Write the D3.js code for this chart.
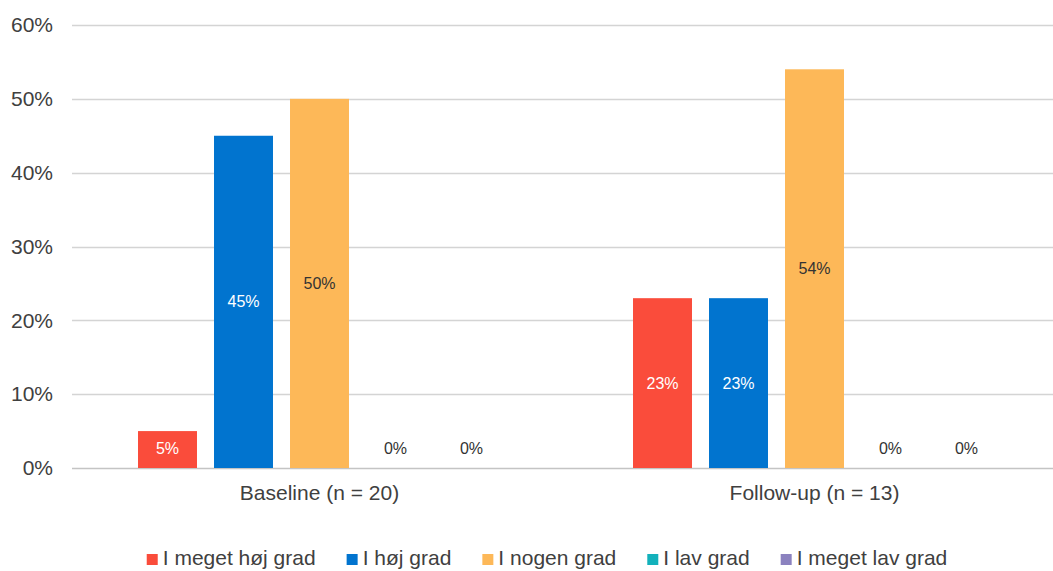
<!DOCTYPE html>
<html>
<head>
<meta charset="utf-8">
<script src="https://cdn.jsdelivr.net/npm/d3@7"></script>
<style>
  html, body { margin: 0; padding: 0; background: #fff; }
  svg { display: block; font-family: "Liberation Sans", Arial, sans-serif; }
</style>
</head>
<body>
<svg id="chart" width="1053" height="571"></svg>
<script>
// Survey groups and answer categories
const groups = ["Baseline (n = 20)", "Follow-up (n = 13)"];
const series = ["I meget høj grad", "I høj grad", "I nogen grad", "I lav grad", "I meget lav grad"];
const colors = ["#FA4C3B", "#0174CF", "#FDB858", "#13B1BB", "#8B82BF"];
// Percentage per group, in series order
const baselineValues = [5, 45, 50, 0, 0];
const followUpValues = [23, 23, 54, 0, 0];
const yTicks = [0, 10, 20, 30, 40, 50, 60];

const values = [baselineValues, followUpValues];

const svg = d3.select("#chart");
const plotLeft = 72, plotRight = 1053, plotTop = 25, plotBottom = 468;

const y = d3.scaleLinear().domain([0, 60]).range([plotBottom, plotTop]);
const x0 = d3.scaleBand().domain(groups).range([plotLeft, plotLeft + 990]).padding(0);
const x1 = d3.scaleBand().domain(series).range([-190, 190]).paddingInner(0.224).paddingOuter(0.112);

// Horizontal gridlines
svg.append("g").selectAll("line").data(yTicks).join("line")
  .attr("x1", plotLeft).attr("x2", plotRight)
  .attr("y1", d => Math.round(y(d)) + 0.5).attr("y2", d => Math.round(y(d)) + 0.5)
  .attr("stroke", d => d === 0 ? "#c4c4c4" : "#d4d4d4")
  .attr("stroke-width", 1.3);

// Y axis labels
const yAxis = d3.axisLeft(y).tickValues(yTicks).tickFormat(d => d + "%").tickSize(0).tickPadding(0);
svg.append("g").attr("transform", `translate(53,0)`).call(yAxis)
  .call(g => g.select(".domain").remove())
  .call(g => g.selectAll("text").attr("fill", "#404040").attr("font-size", 21)
    .attr("font-family", "'Liberation Sans', Arial, sans-serif"));

// Bars and value labels
const groupG = svg.append("g").selectAll("g").data(groups).join("g")
  .attr("transform", d => `translate(${x0(d) + x0.bandwidth() / 2},0)`);

groupG.selectAll("rect").data((g, gi) => series.map((s, si) => ({ s, si, v: values[gi][si] })))
  .join("rect")
  .attr("x", d => x1(d.s))
  .attr("width", x1.bandwidth())
  .attr("y", d => y(d.v))
  .attr("height", d => y(0) - y(d.v))
  .attr("fill", d => colors[d.si]);

groupG.selectAll("text").data((g, gi) => series.map((s, si) => ({ s, si, v: values[gi][si] })))
  .join("text")
  .attr("x", d => x1(d.s) + x1.bandwidth() / 2)
  .attr("y", d => Math.min((y(d.v) + y(0)) / 2, y(0) - 20))
  .attr("dy", "0.35em")
  .attr("text-anchor", "middle")
  .attr("font-size", 16)
  .attr("fill", d => (d.v > 0 && d.si < 2) ? "#ffffff" : "#333333")
  .text(d => d.v + "%");

// Group labels
const xAxis = d3.axisBottom(x0).tickSize(0).tickPadding(0);
svg.append("g").attr("transform", `translate(0,${plotBottom})`).call(xAxis)
  .call(g => g.select(".domain").remove())
  .call(g => g.selectAll("text").attr("fill", "#404040").attr("font-size", 21)
    .attr("font-family", "'Liberation Sans', Arial, sans-serif")
    .attr("dy", null).attr("y", 32));

// Legend
const legend = svg.append("g");
const items = legend.selectAll("g").data(series).join("g");
items.append("rect").attr("width", 11).attr("height", 11).attr("y", -11)
  .attr("fill", (d, i) => colors[i]);
items.append("text").attr("x", 16).attr("y", 0).attr("font-size", 21).attr("fill", "#404040").text(d => d);
let cx = 0;
items.each(function () {
  const w = 16 + this.querySelector("text").getComputedTextLength();
  d3.select(this).attr("transform", `translate(${cx},0)`);
  cx += w + 31;
});
const totalW = cx - 31;
legend.attr("transform", `translate(${547 - totalW / 2},565)`);
</script>
</body>
</html>
